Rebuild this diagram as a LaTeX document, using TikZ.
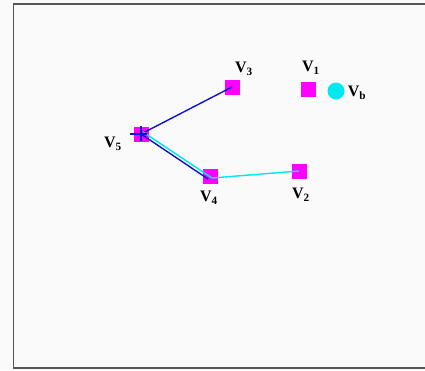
\documentclass[tikz,border=0pt]{standalone}
\usepackage{fontspec}
\setmainfont{Liberation Serif}
\usetikzlibrary{positioning,calc}
\definecolor{frame}{HTML}{555555}
\definecolor{paper}{HTML}{FAFAFA}
\definecolor{vert}{HTML}{FF00FF}
\definecolor{deep}{HTML}{1010D0}
\definecolor{aqua}{HTML}{00E8F0}

\tikzset{
  vsq/.style={rectangle, fill=vert, minimum size=15pt, inner sep=0pt},
  vdot/.style={circle, fill=aqua, minimum size=17pt, inner sep=0pt},
  vlab/.style={font=\bfseries\fontsize{16}{18}\selectfont, inner sep=0pt},
}

\begin{document}
\begin{tikzpicture}[x=1pt, y=-1pt]
  \useasboundingbox (0,0) rectangle (425,370);
  \fill[paper] (0,0) rectangle (425,370);
  \draw[frame, line width=1.3pt] (430,4) -- (13.5,4) -- (13.5,368) -- (430,368);

  % vertices
  \node[vsq] (v3) at (232,87) {};
  \node[vsq] (v1) at (308,89) {};
  \node[vdot] (vb) at (336,91) {};
  \node[vsq] (v5) at (141,134) {};
  \node[vsq] (v4) at (210,176) {};
  \node[vsq] (v2) at (299,171) {};
  \coordinate (v5b) at (143,132);
  \coordinate (v4b) at (212,178);

  % names
  \node[vlab] (l3) at (244,69) {V\textsubscript{3}};
  \node[vlab] (l1) at (311,68) {V\textsubscript{1}};
  \node[vlab] (lb) at (357,93) {V\textsubscript{b}};
  \node[vlab] (l5) at (113,144) {V\textsubscript{5}};
  \node[vlab] (l4) at (209,198) {V\textsubscript{4}};
  \node[vlab] (l2) at (301,195) {V\textsubscript{2}};

  % paths
  \draw[deep, line width=1.4pt] (v3.center) -- (v5.center) -- ($(v4.center)+(-2,3)$);
  \draw[aqua, line width=1.4pt] (v5b) -- (v4b) -- (v2.center);
  \draw[deep, line width=1.4pt] ($(v5.center)+(-11,0)$) -- ($(v5.center)+(6,0)$);
  \draw[deep, line width=1.4pt] ($(v5.center)+(0,-8)$) -- ($(v5.center)+(0,7)$);
\end{tikzpicture}
\end{document}
